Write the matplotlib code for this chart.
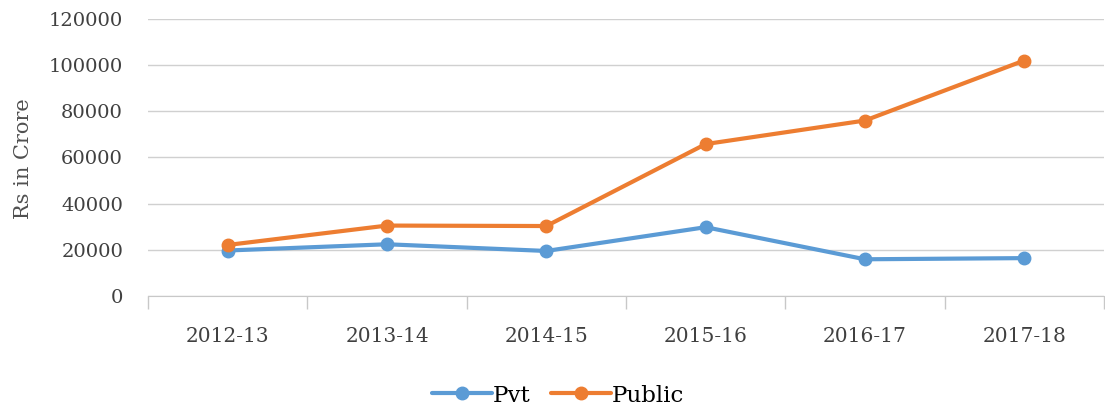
import matplotlib.pyplot as plt

# --------------------------------------------------------
# Data
# --------------------------------------------------------

YEARS = ["2012-13", "2013-14", "2014-15", "2015-16", "2016-17", "2017-18"]

PVT = [19700, 22400, 19500, 29800, 15900, 16400]
PUBLIC = [22100, 30500, 30300, 65800, 76000, 102000]

Y_TICKS = [0, 20000, 40000, 60000, 80000, 100000, 120000]

BLUE = "#5B9BD5"
ORANGE = "#ED7D31"
TEXT = "#404040"


def main():

    plt.rcParams["font.family"] = ["DejaVu Serif"]

    fig = plt.figure(figsize=(11.05, 4.12), dpi=100)
    ax = fig.add_axes([0.134, 0.2816, 0.865, 0.6724])

    x = list(range(len(YEARS)))

    ax.plot(x, PVT, color=BLUE, lw=3, marker="o", ms=9, label="Pvt",
            solid_capstyle="round", zorder=3)
    ax.plot(x, PUBLIC, color=ORANGE, lw=3, marker="o", ms=9, label="Public",
            solid_capstyle="round", zorder=3)

    ax.set_xlim(-0.5, len(YEARS) - 0.5)
    ax.set_ylim(0, 120000)
    ax.set_yticks(Y_TICKS)
    ax.set_yticklabels([str(v) for v in Y_TICKS], fontsize=14, color=TEXT)

    ax.set_xticks(x)
    ax.set_xticklabels(YEARS, fontsize=14.5, color=TEXT)
    ax.tick_params(axis="x", length=0, pad=22)
    ax.tick_params(axis="y", length=0, pad=18)

    # category boundary ticks
    ax.set_xticks([i - 0.5 for i in range(len(YEARS) + 1)], minor=True)
    ax.tick_params(axis="x", which="minor", length=9, color="#C8C8C8", width=1)

    ax.grid(axis="y", color="#D0D0D0", lw=1)
    ax.set_axisbelow(True)

    for side in ["top", "right", "left"]:
        ax.spines[side].set_visible(False)
    ax.spines["bottom"].set_color("#C8C8C8")

    ax.set_ylabel("Rs in Crore", fontsize=15, color="#505050")
    ax.yaxis.set_label_coords(-0.12, 0.495)

    fig.legend(loc="center", bbox_to_anchor=(0.505, 0.04), ncol=2,
               frameon=False, fontsize=16.5, handlelength=2.6,
               columnspacing=0.9, handletextpad=0.05)

    fig.savefig("out.png", dpi=100)


if __name__ == "__main__":
    main()
